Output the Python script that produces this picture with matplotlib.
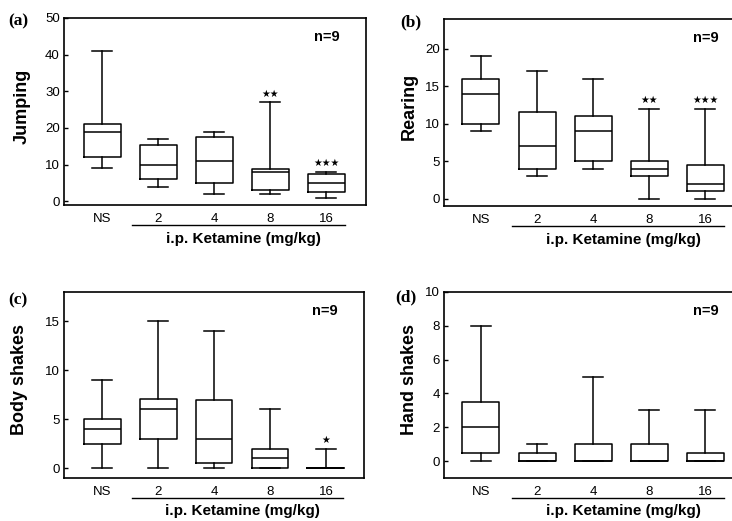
import matplotlib
matplotlib.use("Agg")
import matplotlib.pyplot as plt

plt.rcParams['font.family'] = ['Liberation Sans', 'DejaVu Sans']

# --- data ---
groups = ['NS', '2', '4', '8', '16']

# (a) Jumping
jump_lo = [9, 4, 2, 2, 1]
jump_q1 = [12, 6, 5, 3, 2.5]
jump_med = [19, 10, 11, 8, 5]
jump_q3 = [21, 15.5, 17.5, 8.7, 7.5]
jump_hi = [41, 17, 19, 27, 8]
jump_sig = ['', '', '', '**', '***']

# (b) Rearing
rear_lo = [9, 3, 4, 0, 0]
rear_q1 = [10, 4, 5, 3, 1]
rear_med = [14, 7, 9, 4, 2]
rear_q3 = [16, 11.5, 11, 5, 4.5]
rear_hi = [19, 17, 16, 12, 12]
rear_sig = ['', '', '', '**', '***']

# (c) Body shakes
body_lo = [0, 0, 0, 0, 0]
body_q1 = [2.5, 3, 0.5, 0, 0]
body_med = [4, 6, 3, 1, 0]
body_q3 = [5, 7.1, 7, 2, 0]
body_hi = [9, 15, 14, 6, 2]
body_sig = ['', '', '', '', '*']

# (d) Hand shakes
hand_lo = [0, 0, 0, 0, 0]
hand_q1 = [0.5, 0, 0, 0, 0]
hand_med = [2, 0, 0, 0, 0]
hand_q3 = [3.5, 0.5, 1, 1, 0.5]
hand_hi = [8, 1, 5, 3, 3]
hand_sig = ['', '', '', '', '']

fig = plt.figure(figsize=(7.32, 5.21), dpi=100)

W, H = 732.0, 521.0


def make_axes(left, top, right, bottom):
    return fig.add_axes([left / W, 1 - bottom / H, (right - left) / W, (bottom - top) / H])


def panel(ax, lo, q1, med, q3, hi, sig, ylab, yticks, ylim, xlim):
    stats = []
    for i in range(len(groups)):
        stats.append(dict(whislo=lo[i], q1=q1[i], med=med[i], q3=q3[i], whishi=hi[i], fliers=[]))
    pos = list(range(1, len(groups) + 1))
    lw = 1.1
    ax.bxp(stats, positions=pos, widths=0.66, capwidths=0.36, showfliers=False,
           boxprops=dict(color='black', linewidth=lw),
           medianprops=dict(color='black', linewidth=lw),
           whiskerprops=dict(color='black', linewidth=lw),
           capprops=dict(color='black', linewidth=lw))
    ax.set_xlim(*xlim)
    ax.set_ylim(*ylim)
    ax.set_yticks(yticks)
    ax.tick_params(axis='y', direction='in', length=3, width=1, labelsize=9.5, pad=3)
    ax.set_xticks(pos)
    ax.set_xticklabels(groups)
    ax.tick_params(axis='x', length=0, labelsize=9.5, pad=6)
    for s in ax.spines.values():
        s.set_linewidth(1.2)
    span = ylim[1] - ylim[0]
    for p, h, s in zip(pos, hi, sig):
        if s:
            ax.text(p, h + span * 0.02, '\u2605' * len(s), ha='center', va='bottom',
                    fontsize=7, family='DejaVu Sans')
    ax.set_ylabel(ylab, fontsize=13, fontweight='bold', va='center')
    ax.text(0.87, 0.90, 'n=9', transform=ax.transAxes, ha='center', va='center',
            fontsize=10.5, fontweight='bold')
    # group underline and axis caption
    ax.plot([0.225, 0.93], [-0.105, -0.105], transform=ax.transAxes, color='black',
            linewidth=1.0, clip_on=False)
    ax.text(0.595, -0.18, 'i.p. Ketamine (mg/kg)', transform=ax.transAxes, ha='center',
            va='center', fontsize=11, fontweight='bold')
    return ax


ax_a = make_axes(64, 18, 366, 205)
panel(ax_a, jump_lo, jump_q1, jump_med, jump_q3, jump_hi, jump_sig, 'Jumping',
      [0, 10, 20, 30, 40, 50], (-1, 50), (0.32, 5.71))
ax_a.yaxis.set_label_coords(-0.139, 0.53)

ax_b = make_axes(444, 19, 745, 206)
panel(ax_b, rear_lo, rear_q1, rear_med, rear_q3, rear_hi, rear_sig, 'Rearing',
      [0, 5, 10, 15, 20], (-1, 24), (0.34, 5.71))
ax_b.yaxis.set_label_coords(-0.116, 0.53)

ax_c = make_axes(64, 292, 364, 478)
panel(ax_c, body_lo, body_q1, body_med, body_q3, body_hi, body_sig, 'Body shakes',
      [0, 5, 10, 15], (-1, 18), (0.32, 5.68))
ax_c.yaxis.set_label_coords(-0.147, 0.53)

ax_d = make_axes(444, 292, 745, 478)
panel(ax_d, hand_lo, hand_q1, hand_med, hand_q3, hand_hi, hand_sig, 'Hand shakes',
      [0, 2, 4, 6, 8, 10], (-1, 10), (0.34, 5.71))
ax_d.yaxis.set_label_coords(-0.116, 0.53)

# panel letters
for x, y, t in [(18, 21, '(a)'), (411, 22, '(b)'), (18, 300, '(c)'), (406, 297, '(d)')]:
    fig.text(x / W, 1 - y / H, t, ha='center', va='center', fontsize=12.5,
             fontweight='bold', family='Liberation Serif')

fig.savefig('out.png', dpi=100)
